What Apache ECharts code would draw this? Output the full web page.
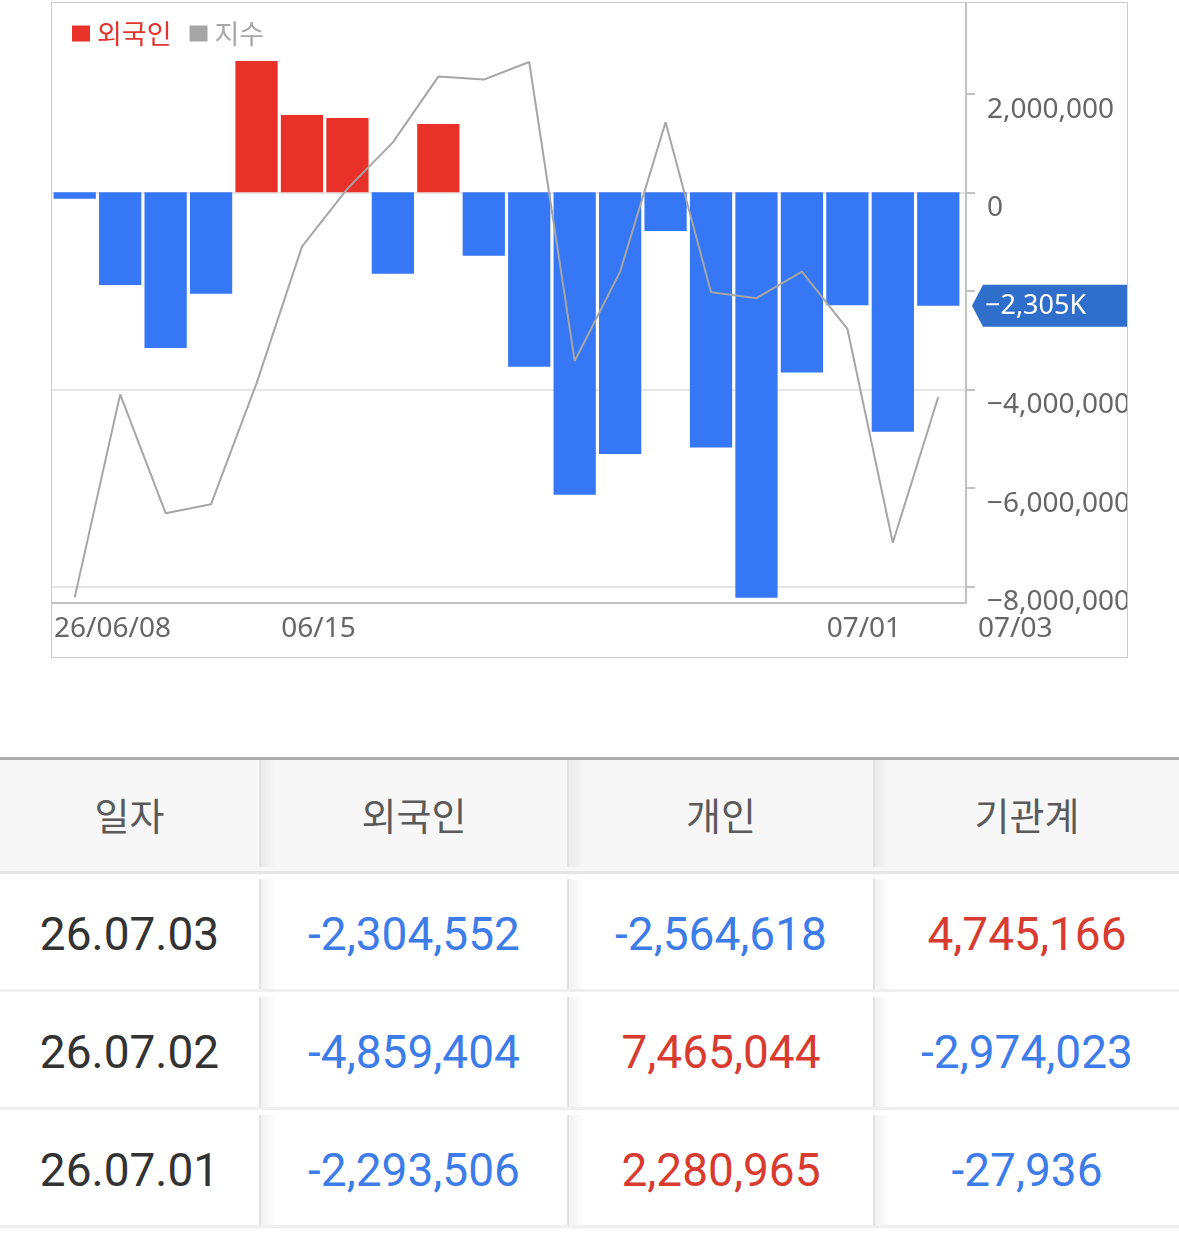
<!DOCTYPE html>
<html>
<head>
<meta charset="utf-8">
<script src="https://cdn.jsdelivr.net/npm/echarts@6/dist/echarts.min.js"></script>
<style>
    html, body { margin: 0; padding: 0; background: #fff; }
    body { width: 1179px; height: 1235px; position: relative; overflow: hidden; }
    #box {
        position: absolute; left: 51px; top: 2px; width: 1077px; height: 656px;
        box-sizing: border-box; border: 1px solid #cbcbcb;
    }
    #chart { width: 1075px; height: 654px; }
    #table { position: absolute; left: 0; top: 757px; width: 1179px; border-top: 3px solid #adadad; }
    .row { display: flex; box-sizing: border-box; }
    .row.head { height: 114px; background: #f7f7f7; border-bottom: 3px solid #e6e6e6; padding-bottom: 4px; }
    .row.body { height: 118px; border-bottom: 3px solid #efefef; padding-top: 5px; }
    .cell {
        display: flex; align-items: center; justify-content: center; box-sizing: border-box;
    }
    .cell.sep {
        border-left: 2px solid #e2e2e2;
        background-image: linear-gradient(to right, rgba(0,0,0,0.05), rgba(0,0,0,0) 16px);
    }
    .head .cell { font-family: "Noto Sans CJK KR", sans-serif; font-size: 38px; color: #5a5a5a; }
    .body .cell { font-family: Roboto, sans-serif; font-size: 46px; color: #333; }
    .up { color: #d83b30 !important; }
    .down { color: #3d7ce9 !important; }
</style>
</head>
<body>
<div id="box"><div id="chart"></div></div>
<div id="table"></div>
<script>
// 일자별 외국인 순매수 (26/06/08 ~ 07/03)
const dates = ['26/06/08', '26/06/09', '26/06/10', '26/06/11', '26/06/12',
    '26/06/15', '26/06/16', '26/06/17', '26/06/18', '26/06/19',
    '26/06/22', '26/06/23', '26/06/24', '26/06/25', '26/06/26',
    '26/06/29', '26/06/30', '26/07/01', '26/07/02', '26/07/03'];
const foreignNet = [-130000, -1880000, -3160000, -2060000, 2665000,
    1569000, 1508000, -1652000, 1386000, -1287000,
    -3540000, -6140000, -5310000, -785000, -5180000,
    -8230000, -3660000, -2293506, -4859404, -2304552];
const indexValues = [2802.8, 2904.3, 2844.9, 2849.4, 2909.8,
    2978.2, 3007.2, 3030.3, 3063.2, 3061.7,
    3070.5, 2921.0, 2965.7, 3040.4, 2955.4,
    2952.4, 2965.7, 2937.1, 2830.1, 2903.0];
// x축에 표시할 날짜 인덱스
const labelIdx = [0, 5, 17];
// y축 눈금
const yTicks = [-8000000, -6000000, -4000000, -2000000, 0, 2000000];

// 하단 표
const tableHead = ['일자', '외국인', '개인', '기관계'];
const tableDates = ['26.07.03', '26.07.02', '26.07.01'];
const tableForeign = [-2304552, -4859404, -2293506];
const tablePerson = [-2564618, 7465044, 2280965];
const tableInst = [4745166, -2974023, -27936];

const RED = '#e83229';
const BLUE = '#3577f5';
const GRAY = '#a6a6a6';
const TAG = '#2f6ecb';
const AXIS = '#c2c2c2';
const Y_MIN = -8336000;
const Y_MAX = 3842000;

function fmtNum(v){
    return v.toLocaleString('en-US');
}
function fmtAxis(v){
    return fmtNum(v).replace('-', '\u2212');
}
function fmtDate(i){
    return i === 0 ? dates[i] : dates[i].slice(3);
}

let lastVal = foreignNet[foreignNet.length - 1];
let tagText = fmtNum(Math.round(lastVal / 1000)).replace('-', '\u2212') + 'K';

let chartDom = document.getElementById('chart');
let myChart = echarts.init(chartDom);

let option = {
    animation: false,
    textStyle: { fontFamily: '"Noto Sans", "Noto Sans CJK KR", sans-serif' },
    title: {
        text: fmtDate(dates.length - 1),
        left: 926,
        top: 612,
        padding: 0,
        textStyle: { fontSize: 28, fontWeight: 'normal', color: '#666', fontFamily: '"Noto Sans", sans-serif' }
    },
    legend: {
        left: 20,
        top: 17,
        padding: 0,
        icon: 'rect',
        itemWidth: 18,
        itemHeight: 16,
        itemGap: 18,
        data: [
            { name: '외국인', itemStyle: { color: RED }, textStyle: { color: '#e0342c' } },
            { name: '지수', itemStyle: { color: GRAY }, textStyle: { color: GRAY } }
        ],
        textStyle: { fontSize: 27, fontFamily: '"Noto Sans CJK KR", sans-serif', padding: [0, 0, 0, 2] }
    },
    // 0: 막대/지수선, 1: 테두리 축과 눈금
    grid: [
        { left: 0, top: 0, right: 166, bottom: 54, outerBoundsMode: 'none' },
        { left: 0, top: 0, right: 161, bottom: 54, outerBoundsMode: 'none' }
    ],
    xAxis: [
        {
            type: 'category',
            gridIndex: 0,
            data: dates,
            axisLine: { show: false },
            axisTick: { show: false },
            axisLabel: { show: false },
            splitLine: { show: false }
        },
        {
            type: 'value',
            gridIndex: 0,
            min: 0,
            max: dates.length,
            interval: 1,
            position: 'bottom',
            axisLine: { show: false, onZero: false },
            axisTick: { show: false },
            splitLine: { show: false },
            axisLabel: {
                show: true,
                align: 'left',
                margin: 12,
                padding: [0, 0, 0, 2],
                fontSize: 28,
                color: '#666',
                showMinLabel: true,
                showMaxLabel: false,
                formatter: (v) => labelIdx.indexOf(v) >= 0 ? fmtDate(v) : ''
            }
        },
        {
            type: 'value',
            gridIndex: 1,
            min: 0,
            max: 1,
            position: 'bottom',
            axisLine: { show: true, onZero: false, lineStyle: { color: AXIS, width: 2 } },
            axisTick: { show: false },
            axisLabel: { show: false },
            splitLine: { show: false }
        }
    ],
    yAxis: [
        {
            type: 'value',
            gridIndex: 0,
            min: Y_MIN,
            max: Y_MAX,
            show: false,
            splitLine: { show: false }
        },
        {
            type: 'value',
            gridIndex: 0,
            min: 2800,
            max: 3100,
            show: false,
            splitLine: { show: false }
        },
        {
            type: 'value',
            gridIndex: 1,
            position: 'right',
            min: Y_MIN,
            max: Y_MAX,
            axisLine: { show: true, onZero: false, lineStyle: { color: AXIS, width: 2 } },
            axisTick: { show: true, length: 9, customValues: yTicks, lineStyle: { color: AXIS, width: 2 } },
            axisLabel: {
                margin: 21,
                fontSize: 28,
                color: '#666',
                verticalAlign: 'top',
                padding: [2, 0, 0, 0],
                customValues: yTicks,
                formatter: fmtAxis
            },
            splitLine: { show: true, lineStyle: { color: ['#e6e6e6', 'transparent'], width: 2 } }
        }
    ],
    series: [
        {
            name: '외국인',
            type: 'bar',
            xAxisIndex: 0,
            yAxisIndex: 0,
            barCategoryGap: '7%',
            data: foreignNet,
            itemStyle: {
                color: (p) => p.value >= 0 ? RED : BLUE
            },
            markPoint: {
                symbol: 'path://M0,21L11,0L155,0L155,42L11,42Z',
                symbolSize: [155, 42],
                symbolOffset: [0, 0],
                silent: true,
                itemStyle: { color: TAG },
                label: {
                    show: true,
                    position: 'insideLeft',
                    distance: 13,
                    formatter: tagText,
                    color: '#fff',
                    fontSize: 27
                },
                data: [{ coord: [dates.length - 1, lastVal], value: lastVal }]
            }
        },
        {
            name: '지수',
            type: 'line',
            xAxisIndex: 0,
            yAxisIndex: 1,
            data: indexValues,
            symbol: 'none',
            lineStyle: { color: GRAY, width: 2 },
            itemStyle: { color: GRAY },
            z: 3
        }
    ]
};
myChart.setOption(option);

// 마지막 값 태그를 y축 바깥 오른쪽에 붙인다
let barX = myChart.convertToPixel({ xAxisIndex: 0 }, dates[dates.length - 1]);
let tagCenterX = 914 + 6 + 77.5;
myChart.setOption({ series: [{ markPoint: { symbolOffset: [tagCenterX - barX, 0] } }] });

// 표 그리기
function cls(v){
    return v > 0 ? 'up' : (v < 0 ? 'down' : '');
}
const colW = [259, 308, 306, 306];
let html = '<div class="row head">';
tableHead.forEach((h, i) => {
    html += '<div class="cell' + (i > 0 ? ' sep' : '') + '" style="width:' + colW[i] + 'px">' + h + '</div>';
});
html += '</div>';
for(let r = 0; r < tableDates.length; r++){
    let vals = [tableForeign[r], tablePerson[r], tableInst[r]];
    html += '<div class="row body">';
    html += '<div class="cell" style="width:' + colW[0] + 'px">' + tableDates[r] + '</div>';
    vals.forEach((v, i) => {
        html += '<div class="cell sep ' + cls(v) + '" style="width:' + colW[i + 1] + 'px">' + fmtNum(v) + '</div>';
    });
    html += '</div>';
}
document.getElementById('table').innerHTML = html;
</script>
</body>
</html>
